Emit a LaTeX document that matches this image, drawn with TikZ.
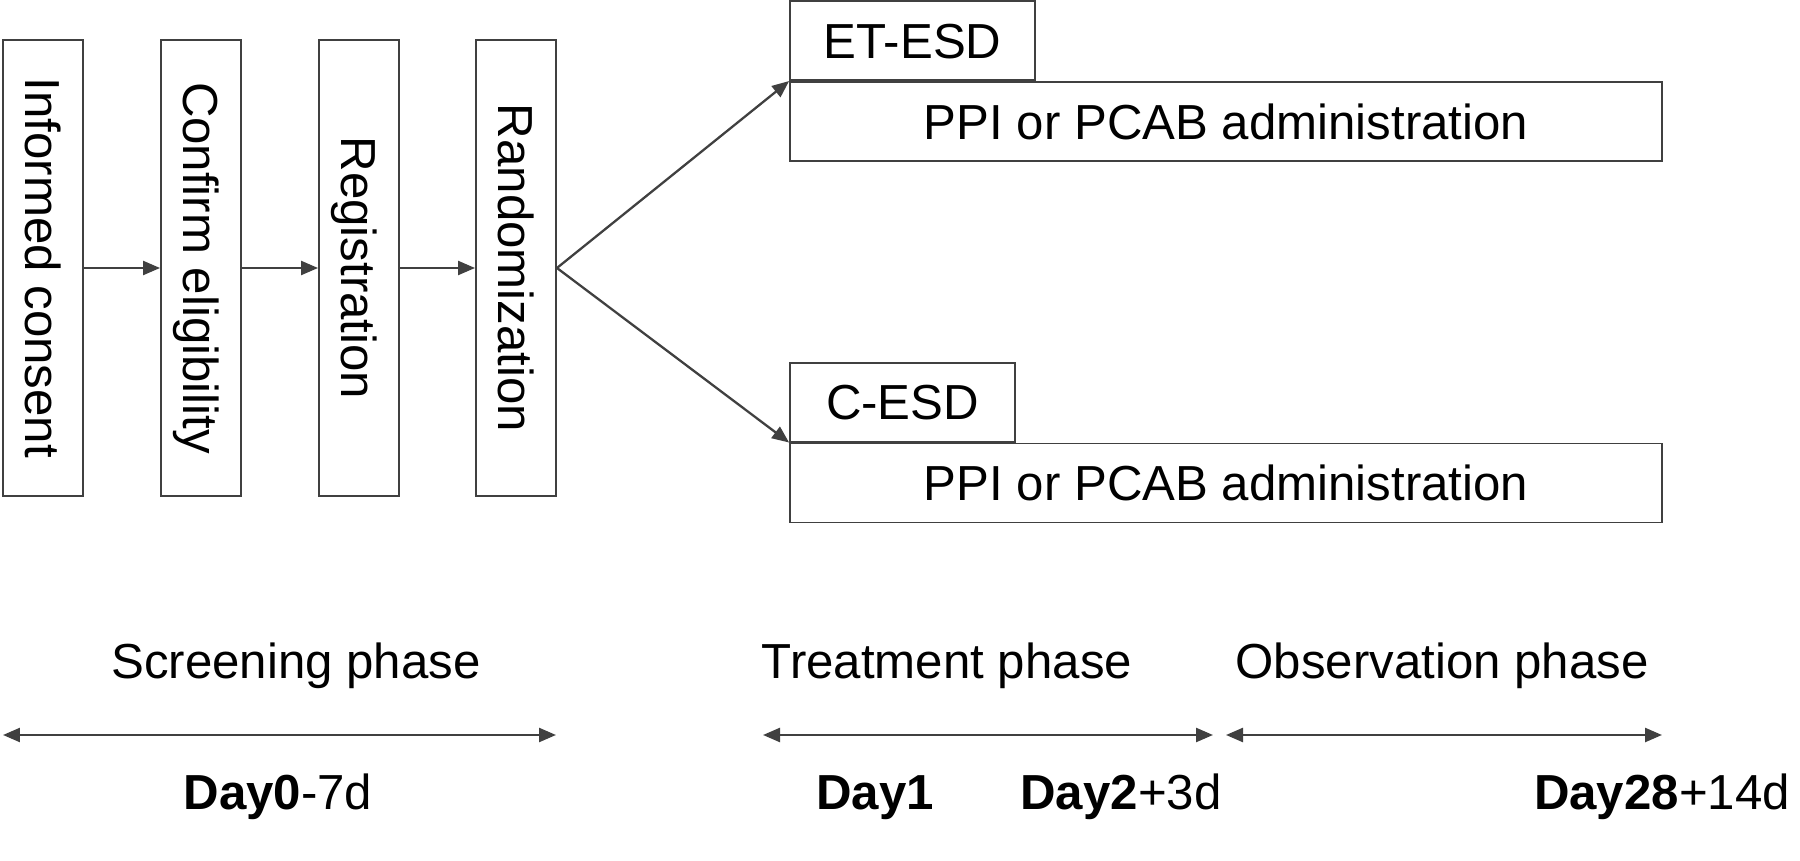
\documentclass[tikz,border=0pt]{standalone}
\usepackage{fontspec}
\setmainfont{Liberation Sans}
\usetikzlibrary{arrows.meta}
\definecolor{linegray}{HTML}{404040}

\begin{document}
\begin{tikzpicture}[x=0.02cm,y=-0.02cm,
    font=\fontsize{28}{33}\selectfont,
    vbox/.style={draw=linegray,line width=1.1pt,rotate=-90,minimum width=9.12cm,
      minimum height=1.6cm,inner sep=0pt,text height=20pt,text depth=0pt},
    hbox/.style={draw=linegray,line width=1.1pt,minimum height=1.58cm,
      inner sep=0pt,text height=20pt,text depth=0pt},
    flow/.style={draw=linegray,line width=1.3pt,-{Triangle[length=0.34cm,width=0.28cm]}},
    phasearrow/.style={draw=linegray,line width=1.4pt,
      {Triangle[length=0.34cm,width=0.28cm]}-{Triangle[length=0.34cm,width=0.28cm]}}]
  \useasboundingbox (0,0) rectangle (1800,861);
  % screening steps
  \node[vbox] (consent) at (43,268) {Informed consent};
  \node[vbox] (elig) at (201,268) {Confirm eligibility};
  \node[vbox] (regis) at (359,268) {Registration};
  \node[vbox] (random) at (516,268) {Randomization};
  \draw[flow] (consent.north) -- (elig.south);
  \draw[flow] (elig.north) -- (regis.south);
  \draw[flow] (regis.north) -- (random.south);
  % two arms
  \node[hbox,minimum width=17.44cm] (ppia) at (1226,121.5) {PPI or PCAB administration};
  \node[hbox,minimum width=4.9cm,anchor=south west] (etesd) at (ppia.north west) {ET-ESD};
  \node[hbox,minimum width=17.44cm] (ppib) at (1226,483) {PPI or PCAB administration};
  \node[hbox,minimum width=4.5cm,anchor=south west] (cesd) at (ppib.north west) {C-ESD};
  \draw[flow] (random.north) -- (ppia.north west);
  \draw[flow] (random.north) -- (ppib.north west);
  % phases
  \coordinate (S0) at (3,735);
  \coordinate (S1) at (556,735);
  \coordinate (T0) at (763,735);
  \coordinate (T1) at (1213,735);
  \coordinate (O0) at (1226,735);
  \coordinate (O1) at (1662,735);
  \draw[phasearrow] (S0) -- (S1);
  \draw[phasearrow] (T0) -- (T1);
  \draw[phasearrow] (O0) -- (O1);
  \node[anchor=base] (screen) at (296,679) {Screening phase};
  \node[anchor=base] (treat) at (947,679) {Treatment phase};
  \node[anchor=base] (observ) at (1442,679) {Observation phase};
  \node[anchor=base] (day0) at (278,809) {\textbf{Day0}-7d};
  \node[anchor=base] (day1) at (875,809) {\textbf{Day1}};
  \node[anchor=base] (day2) at (1121,809) {\textbf{Day2}+3d};
  \node[anchor=base] (day28) at (1662,809) {\textbf{Day28}+14d};
\end{tikzpicture}
\end{document}
